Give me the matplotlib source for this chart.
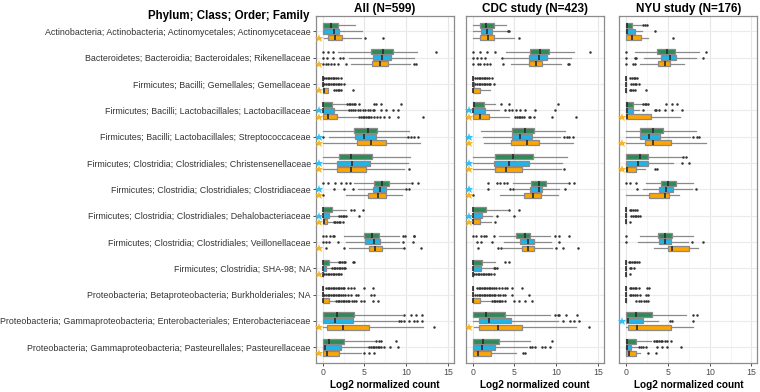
import matplotlib
matplotlib.use("Agg")
import matplotlib.pyplot as plt

plt.rcParams['font.family'] = ['Liberation Sans', 'DejaVu Sans']

categories = [
    "Actinobacteria; Actinobacteria; Actinomycetales; Actinomycetaceae",
    "Bacteroidetes; Bacteroidia; Bacteroidales; Rikenellaceae",
    "Firmicutes; Bacilli; Gemellales; Gemellaceae",
    "Firmicutes; Bacilli; Lactobacillales; Lactobacillaceae",
    "Firmicutes; Bacilli; Lactobacillales; Streptococcaceae",
    "Firmicutes; Clostridia; Clostridiales; Christensenellaceae",
    "Firmicutes; Clostridia; Clostridiales; Clostridiaceae",
    "Firmicutes; Clostridia; Clostridiales; Dehalobacteriaceae",
    "Firmicutes; Clostridia; Clostridiales; Veillonellaceae",
    "Firmicutes; Clostridia; SHA-98; NA",
    "Proteobacteria; Betaproteobacteria; Burkholderiales; NA",
    "Proteobacteria; Gammaproteobacteria; Enterobacteriales; Enterobacteriaceae",
    "Proteobacteria; Gammaproteobacteria; Pasteurellales; Pasteurellaceae",
]
panel_titles = ["All (N=599)", "CDC study (N=423)", "NYU study (N=176)"]
x_ticks = [0, 5, 10, 15]

# five-number summaries per category: [whisker low, q1, median, q3, whisker high]
all_green = [[0, 0.04, 0.96, 1.85, 3.9], [1.8, 5.74, 7.2, 8.4, 11.3], [0, 0, 0, 0, 0],
             [0, 0, 0.05, 1.1, 2.7], [0, 3.8, 5.4, 6.5, 10.4], [0, 1.9, 3.4, 5.9, 10.5],
             [3.7, 6.1, 7.1, 7.9, 10.5], [0, 0, 0, 1.16, 2.85], [2.5, 4.9, 5.9, 6.7, 9.2],
             [0, 0, 0, 0.7, 1.8], [0, 0, 0, 0, 0], [0, 0, 1.7, 3.8, 9.5], [0, 0, 0.75, 2.57, 6.2]]
all_blue = [[0, 0, 1.3, 1.93, 4.7], [3.2, 6.0, 7.1, 8.15, 10.9], [0, 0, 0, 0, 0],
            [0, 0, 0.08, 1.3, 3.0], [0.7, 3.9, 5.0, 6.4, 10.1], [0, 1.7, 3.5, 5.7, 10.2],
            [4.2, 6.06, 6.9, 7.6, 9.8], [0, 0, 0.05, 0.8, 1.8], [2.8, 5.1, 6.1, 6.9, 9.2],
            [0, 0, 0.05, 0.4, 1.0], [0, 0, 0, 0, 0], [0, 0, 1.45, 3.6, 8.9], [0, 0, 0.3, 2.17, 5.4]]
all_orange = [[0.1, 0.64, 1.5, 2.3, 4.6], [3.4, 5.86, 6.9, 7.8, 10.5], [0, 0, 0.1, 0.6, 0.6],
              [0, 0, 0.64, 1.7, 4.1], [0, 4.1, 5.8, 7.55, 11.7], [0, 1.77, 3.4, 5.2, 9.8],
              [2.8, 5.4, 6.6, 7.6, 9.5], [0, 0, 0.16, 0.56, 1.2], [3.1, 5.5, 6.3, 7.15, 9.6],
              [0, 0, 0, 0, 0], [0, 0, 0.05, 0.7, 1.4], [0, 0.56, 2.45, 5.5, 12.0], [0, 0, 0.56, 1.9, 4.6]]

cdc_green = [[0, 0.9, 1.6, 2.5, 4.0], [4.0, 6.9, 8.1, 9.15, 12.1], [0, 0, 0, 0, 0],
             [0, 0, 0.15, 1.33, 2.7], [1.0, 4.7, 6.25, 7.3, 11.05], [0, 2.7, 4.8, 7.2, 11.25],
             [4.8, 7.0, 7.9, 8.8, 11.25], [0, 0, 0.05, 1.65, 4.1], [3.1, 5.2, 6.25, 6.9, 9.3],
             [0, 0, 0.05, 1.17, 2.7], [0, 0, 0, 0, 0], [0, 0, 1.6, 3.83, 9.3], [0, 0, 1.2, 3.1, 6.9]]
cdc_blue = [[0, 1.0, 1.7, 2.26, 4.1], [3.8, 6.8, 7.9, 8.95, 11.8], [0, 0, 0.05, 0.15, 0.15],
            [0, 0, 0.08, 1.5, 3.1], [1.2, 4.7, 5.7, 7.1, 10.5], [0, 2.6, 4.4, 6.7, 10.7],
            [5.1, 6.9, 7.9, 8.35, 10.4], [0, 0, 0.08, 1.17, 2.3], [3.7, 5.7, 6.65, 7.4, 9.35],
            [0, 0, 0.05, 1.0, 2.3], [0, 0, 0, 0, 0], [0, 0.7, 1.9, 4.6, 10.2], [0, 0, 1.1, 2.7, 6.5]]
cdc_orange = [[0, 0.9, 1.8, 2.5, 4.9], [4.6, 6.7, 7.6, 8.35, 10.6], [0, 0, 0.05, 0.9, 2.1],
              [0, 0, 0.9, 1.9, 4.3], [1.3, 4.6, 6.5, 8.0, 12.0], [0, 2.7, 4.0, 5.85, 10.6],
              [3.3, 6.1, 7.25, 8.15, 10.2], [0, 0, 0.08, 0.93, 2.2], [3.6, 5.85, 6.6, 7.4, 9.55],
              [0, 0, 0, 0, 0], [0, 0, 0.08, 0.9, 2.1], [0.1, 0.8, 3.0, 5.9, 12.4], [0, 0, 0.6, 2.2, 5.2]]

nyu_green = [[0, 0, 0.08, 0.7, 1.8], [1.0, 3.7, 4.9, 5.8, 8.7], [0, 0, 0, 0, 0],
             [0, 0, 0.08, 0.77, 1.9], [0, 1.7, 3.2, 4.4, 8.3], [0, 0, 1.6, 2.6, 6.65],
             [2.4, 4.15, 5.0, 5.9, 8.0], [0, 0, 0, 0, 0], [1.6, 3.8, 4.6, 5.5, 8.05],
             [0, 0, 0, 0, 0], [0, 0, 0, 0, 0], [0, 0, 1.2, 3.1, 7.2], [0, 0, 0.08, 1.2, 3.0]]
nyu_blue = [[0, 0, 0.08, 1.0, 1.9], [2.1, 4.15, 5.2, 6.0, 8.4], [0, 0, 0, 0, 0],
            [0, 0, 0.08, 0.77, 1.5], [0, 1.7, 2.7, 4.0, 7.6], [0, 0, 1.4, 2.6, 5.6],
            [2.0, 3.9, 4.8, 5.6, 7.9], [0, 0, 0, 0, 0], [1.4, 3.9, 4.6, 5.4, 7.45],
            [0, 0, 0, 0, 0], [0, 0, 0, 0, 0], [0, 0, 0.15, 2.0, 3.8], [0, 0, 0.08, 0.56, 1.3]]
nyu_orange = [[0, 0, 0.7, 1.8, 2.6], [1.6, 3.75, 4.6, 5.2, 6.9], [0, 0, 0, 0, 0],
              [0, 0, 0.08, 2.9, 6.4], [0, 2.2, 3.2, 5.4, 9.6], [0, 0, 0.08, 1.17, 2.3],
              [0, 2.7, 4.6, 5.1, 6.3], [0, 0, 0, 0, 0], [3.3, 5.0, 5.45, 7.5, 8.55],
              [0, 0, 0, 0, 0], [0, 0, 0, 0, 0], [0, 0.15, 1.3, 5.4, 8.0], [0, 0, 0.3, 1.2, 1.7]]

# outlying points per category
all_green_out = [[], [0, 0.6, 1.2, 13.6], [0.2, 0.4, 0.6, 0.8, 1.0, 1.2, 1.4, 1.6, 1.8, 2.2],
                 [2.9, 3.1, 3.3, 3.5, 3.7, 3.9, 4.4, 6.2, 6.4, 7.0, 9.4], [], [],
                 [0, 0.64, 1.5, 2.2, 2.8, 3.3, 10.7, 11.4], [3.4, 3.7, 4.8],
                 [0, 0.4, 0.9, 1.2, 1.4, 9.6, 9.9, 10.9, 11.0], [1.9, 2.1, 2.3, 2.5, 2.7, 3.6, 3.8],
                 [0.4, 0.6, 0.8, 1.0, 1.2, 1.4, 1.6, 1.8, 2.0, 2.2, 2.4, 2.6, 3.0, 3.4, 3.8, 5.0, 6.0],
                 [9.8, 10.6, 11.2, 11.9], [6.4, 6.7, 7.0, 8.8]]
all_blue_out = [[], [0, 0.56, 1.2, 2.1, 2.4],
                [0.2, 0.4, 0.6, 0.8, 1.0, 1.2, 1.4, 1.6, 1.8, 2.0, 2.2, 2.6],
                [3.2, 3.4, 3.6, 3.9, 4.2, 4.5, 4.8, 5.1, 5.4, 5.7, 6.0, 6.2, 7.0, 7.6, 8.4, 9.0],
                [0, 10.2, 10.6, 11.0, 11.4], [], [1.4, 2.5, 3.6, 10.0, 10.4],
                [2.0, 2.2, 2.4, 2.6, 2.8, 4.4], [0, 0.4, 0.8, 1.8, 9.6, 10.8],
                [1.1, 1.3, 1.5, 1.7, 1.9, 2.1, 2.3, 2.5, 2.7],
                [0.2, 0.4, 0.6, 0.8, 1.0, 1.2, 1.4, 1.6, 1.8, 2.0, 2.2, 2.4, 2.7, 3.0, 3.4, 4.0, 4.2, 5.8, 6.2],
                [9.1, 9.4, 9.8, 10.4, 11.0, 11.3, 11.9],
                [5.6, 5.8, 6.0, 6.2, 6.4, 6.6, 6.8, 7.0, 7.4, 8.1, 9.0]]
all_orange_out = [[5.1, 7.2], [0, 0.4, 0.6, 1.0, 1.4, 1.8, 2.8, 10.9, 11.2],
                  [1.4, 1.6, 1.8, 2.0, 2.2, 3.6],
                  [4.4, 4.6, 4.8, 5.0, 5.2, 5.4, 5.6, 5.8, 6.1, 6.5, 6.9, 7.3, 7.9, 9.0, 12.0],
                  [], [10.4], [0], [1.3, 1.5, 1.7, 1.9, 2.1, 2.4], [0.4, 2.6, 9.8, 11.8],
                  [0.2, 0.4, 0.6, 0.8, 1.0, 1.2, 1.4, 1.6, 1.8, 2.0, 2.2],
                  [1.6, 1.8, 2.0, 2.2, 2.4, 2.6, 2.8, 3.0, 3.2, 3.5, 3.8, 4.0, 4.6, 5.0, 6.0, 6.6],
                  [13.3], [4.9, 5.6, 6.2]]

cdc_green_out = [[], [0, 0.9, 1.7, 2.7, 14.0],
                 [0.3, 0.5, 0.7, 0.9, 1.1, 1.3, 1.5, 1.7, 1.9, 2.3], [3.4, 4.4, 10.2], [], [],
                 [1.8, 2.9, 3.3, 3.7, 4.1, 11.5, 12.2], [4.3, 5.5],
                 [0, 0.4, 1.0, 1.3, 1.6, 2.6, 9.9, 10.3, 11.6], [3.9, 4.3],
                 [0.5, 0.7, 0.9, 1.1, 1.3, 1.5, 1.7, 1.9, 2.1, 2.3, 2.5, 2.8, 3.1, 3.5, 3.9, 4.1, 4.7, 5.9],
                 [9.9, 10.2, 10.4, 11.2, 12.5], [9.5]]
cdc_blue_out = [[4.2, 4.4], [0, 0.5, 1.0, 1.5, 3.5],
                [0.3, 0.5, 0.7, 0.9, 1.1, 1.3, 1.5, 1.7, 1.9, 2.1, 2.5],
                [3.9, 4.3, 4.7, 5.2, 5.7, 6.3, 7.5, 9.9], [11.0, 11.3, 11.6, 12.0], [],
                [1.8, 4.5, 4.8, 11.1], [2.9, 4.9], [0.5, 1.0, 2.3, 10.4], [2.5, 2.7, 2.9],
                [0.3, 0.5, 0.7, 0.9, 1.1, 1.3, 1.5, 1.7, 1.9, 2.1, 2.3, 2.5, 2.7, 3.0, 3.3, 3.6, 3.9, 4.7, 6.7],
                [10.8, 11.7, 12.1, 12.7], [6.9, 7.1, 7.5, 8.3, 8.7, 9.3]]
cdc_orange_out = [[5.5], [0, 0.6, 0.9, 1.3, 1.7, 2.1, 3.6, 11.4, 11.6], [],
                  [5.1, 5.3, 5.5, 5.7, 5.9, 6.1, 6.7, 6.9, 7.3, 9.5, 12.4], [], [11.0], [0], [2.7],
                  [0.6, 3.0, 3.4, 10.0, 10.8, 12.6],
                  [0.2, 0.4, 0.6, 0.8, 1.0, 1.2, 1.4, 1.6, 1.8, 2.0, 2.2, 2.5],
                  [2.3, 2.5, 2.7, 2.9, 3.1, 3.3, 3.5, 3.9, 4.9, 5.5, 6.3, 7.1],
                  [13.9], [6.0, 6.3]]

nyu_green_out = [[2.0, 2.2, 2.5], [0, 9.6], [0.5, 0.7, 0.9, 1.1, 1.3],
                 [2.0, 2.2, 2.4, 2.6, 4.7, 5.5, 6.1], [], [6.8, 7.1], [0, 0.4, 1.2],
                 [0.4, 0.6, 0.8, 1.0, 1.3], [0], [0.3, 0.5, 0.7, 0.9, 1.1, 1.3, 1.5],
                 [0.4, 0.6, 0.8, 1.0, 1.2, 1.5, 2.5, 2.7], [7.95, 8.5],
                 [3.3, 3.5, 3.7, 3.9, 4.1, 4.3, 4.6, 4.9, 5.3]]
nyu_blue_out = [[3.4], [0, 1.0, 1.2, 9.15], [0.6, 0.8, 1.0, 1.2, 1.5],
                [2.0, 3.4, 3.6, 3.9, 4.6, 5.5, 6.65], [8.0, 8.5, 8.75], [6.7, 7.5], [1.3, 8.35],
                [0.6, 0.8, 1.0, 1.2, 1.4, 1.6], [0, 7.9, 9.2], [0.4, 0.6, 0.9],
                [0.4, 0.6, 0.8, 1.0, 1.3, 1.7, 2.4, 2.6], [5.2, 5.5, 7.95],
                [1.5, 1.8, 2.0, 2.4, 3.7, 4.3, 4.9, 6.5]]
nyu_orange_out = [[5.6], [0, 0.8, 1.0], [0.4, 0.6, 0.8, 1.1, 2.4], [], [], [3.4, 3.7], [],
                  [0.4], [], [0.4], [1.2, 1.5, 1.8, 2.1, 2.4, 2.6], [], [2.6, 3.5]]

# categories (indices) marked with a star
all_blue_star = [3, 4, 5, 6, 7]
all_orange_star = [0, 1, 2, 3, 4, 5, 6, 7, 8, 9, 11, 12]
cdc_blue_star = [3, 4, 5, 6, 7]
cdc_orange_star = [3, 4, 5, 6, 7, 11]
nyu_blue_star = [11]
nyu_orange_star = [3, 4, 5]

GREEN = "#2E8B57"
BLUE = "#1DB5EA"
ORANGE = "#FFA500"
STAR_BLUE = "#33C1F2"
STAR_ORANGE = "#F7B52A"

panels = [
    (panel_titles[0], [all_green, all_blue, all_orange],
     [all_green_out, all_blue_out, all_orange_out], all_blue_star, all_orange_star),
    (panel_titles[1], [cdc_green, cdc_blue, cdc_orange],
     [cdc_green_out, cdc_blue_out, cdc_orange_out], cdc_blue_star, cdc_orange_star),
    (panel_titles[2], [nyu_green, nyu_blue, nyu_orange],
     [nyu_green_out, nyu_blue_out, nyu_orange_out], nyu_blue_star, nyu_orange_star),
]

W, H = 760, 392
fig = plt.figure(figsize=(W / 100, H / 100), dpi=100)

lefts = [315.7, 465.7, 619.3]
pw = 138.0
top_px, bot_px = 15.7, 363.0
offsets = [-0.232, 0.0, 0.232]
colors = [GREEN, BLUE, ORANGE]
n = len(categories)

for pi, (title, stats_list, outs_list, bstar, ostar) in enumerate(panels):
    ax = fig.add_axes([lefts[pi] / W, 1 - bot_px / H, pw / W, (bot_px - top_px) / H])
    ax.set_xlim(-0.84, 15.7)
    ax.set_ylim(n - 1 + 0.6, -0.6)
    # grid
    for xv in [2.5, 7.5, 12.5]:
        ax.axvline(xv, color="#F2F2F2", lw=0.5, zorder=0)
    for xv in x_ticks:
        ax.axvline(xv, color="#E6E6E6", lw=0.8, zorder=0)
    for yv in range(n):
        ax.axhline(yv, color="#EBEBEB", lw=0.8, zorder=0)

    for si in range(3):
        bxstats = []
        for ci in range(n):
            lo, q1, med, q3, hi = stats_list[si][ci]
            bxstats.append(dict(whislo=lo, q1=q1, med=med, q3=q3, whishi=hi,
                                fliers=outs_list[si][ci]))
        pos = [ci + offsets[si] for ci in range(n)]
        ax.bxp(bxstats, positions=pos, widths=0.19, orientation="horizontal",
               patch_artist=True, showcaps=False, manage_ticks=False,
               boxprops=dict(facecolor=colors[si], edgecolor="#8A8A8A", linewidth=0.9),
               medianprops=dict(color="#2B2B2B", linewidth=1.2),
               whiskerprops=dict(color="#8A8A8A", linewidth=0.9),
               flierprops=dict(marker="o", markersize=1.8, markerfacecolor="#333333",
                               markeredgecolor="none"))

    for ci in bstar:
        ax.plot(-0.5, ci + offsets[1], marker="*", color=STAR_BLUE, markersize=6.3,
                markeredgewidth=0, clip_on=False, zorder=5)
    for ci in ostar:
        ax.plot(-0.5, ci + offsets[2], marker="*", color=STAR_ORANGE, markersize=6.3,
                markeredgewidth=0, clip_on=False, zorder=5)

    ax.set_xticks(x_ticks)
    ax.set_xticklabels([str(v) for v in x_ticks], fontsize=6.3, color="#4D4D4D")
    ax.tick_params(axis="x", length=2, width=0.6, color="#333333", pad=1.5)
    ax.set_xlabel("Log2 normalized count", fontsize=7.2, fontweight="bold", labelpad=2)
    ax.set_title(title, fontsize=8.5, fontweight="bold", pad=3)
    if pi == 0:
        ax.set_yticks(range(n))
        ax.set_yticklabels(categories, fontsize=6.4, color="#333333")
        ax.tick_params(axis="y", length=2, width=0.6, color="#333333", pad=1.5)
    else:
        ax.set_yticks([])
    for sp in ax.spines.values():
        sp.set_color("#8C8C8C")
        sp.set_linewidth(0.9)

fig.text(309 / W, 1 - 16 / H, "Phylum; Class; Order; Family", ha="right", va="center",
         fontsize=8.3, fontweight="bold")

fig.savefig("out.png", dpi=100)
